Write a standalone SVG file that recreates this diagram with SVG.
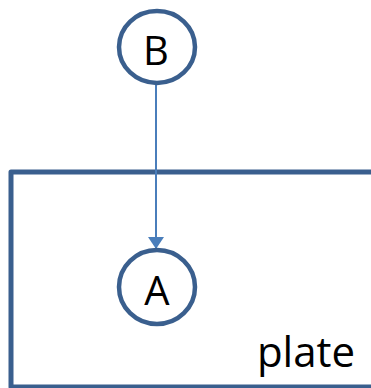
<svg xmlns="http://www.w3.org/2000/svg" width="371" height="388" viewBox="0 0 371 388">
  <style>
    .node { fill: #ffffff; stroke: #3a5f8e; stroke-width: 4.5; }
    .label { font-family: "Open Sans", "Noto Sans", sans-serif; font-size: 40px; fill: #000000; text-anchor: middle; }
    .edge { stroke: #4a7ebb; stroke-width: 2; fill: none; }
    .plate { fill: none; stroke: #3a5f8e; stroke-width: 5; stroke-linejoin: round; }
  </style>
  <defs>
    <marker id="arrow" viewBox="0 0 12 16" refX="12" refY="8" markerWidth="12" markerHeight="16" markerUnits="userSpaceOnUse" orient="auto">
      <path d="M0,0 L12,8 L0,16 Z" fill="#4a7ebb"/>
    </marker>
  </defs>

  <!-- plate frame, open on the right where it runs past the edge -->
  <g id="plate">
    <path class="plate" d="M380,172 L11,172 L11,387 L380,387"/>
    <text class="label" x="306" y="367" style="font-size:42px">plate</text>
  </g>

  <g id="connectors">
    <line class="edge" x1="156" y1="83" x2="156" y2="249" marker-end="url(#arrow)"/>
  </g>

  <g id="node-B">
    <ellipse class="node" cx="157" cy="47" rx="38" ry="36"/>
    <text class="label" x="156" y="65">B</text>
  </g>

  <g id="node-A">
    <ellipse class="node" cx="157" cy="287" rx="38" ry="37"/>
    <text class="label" x="157" y="305">A</text>
  </g>
</svg>
